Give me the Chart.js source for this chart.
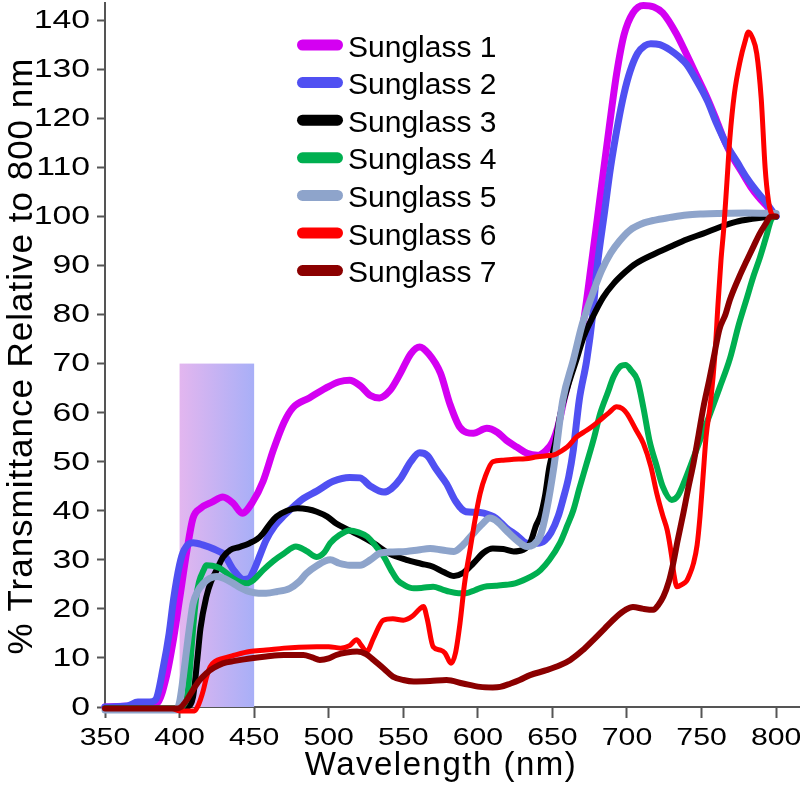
<!DOCTYPE html>
<html><head><meta charset="utf-8">
<script src="https://cdn.jsdelivr.net/npm/chart.js@4.4.1/dist/chart.umd.min.js"></script>
<style>html,body{margin:0;padding:0;background:#fff;}#wrap{width:800px;height:798px;}</style>
</head><body><div id="wrap"><canvas id="c" width="800" height="798"></canvas></div>
<script>
const xTicks = [350,400,450,500,550,600,650,700,750,800];
const yTicks = [0,10,20,30,40,50,60,70,80,90,100,110,120,130,140];
const seriesNames = ['Sunglass 1','Sunglass 2','Sunglass 3','Sunglass 4','Sunglass 5','Sunglass 6','Sunglass 7'];
const xTitle = 'Wavelength (nm)';
const yTitle = '% Transmittance Relative to 800 nm';
const highlightRange = [400, 450];
const highlightTop = 70;

const wl1 = [350,375,385,391,396,400,405,409,414,422,429,436,442,449,456,463,470,476,487,498,507,514,521,528,534,541,548,555,561,567,575,581,588,597,606,613,619,626,633,640,646,650,654,658,663,670,676,682,688,693,698,704,711,718,724,733,740,747,754,760,766,771,777,783,788,794,800];
const sunglass1 = [0,0.3,0.8,6,14,22,32,38.5,40.5,41.8,42.8,41.5,39.5,41.8,46,52.5,58,61,63,65,66.3,66.6,65.5,63.5,63,64.5,68,72,73.4,72,68,62,57,55.8,56.8,56,54.4,53,51.7,51.3,52.4,54,57.5,63,69,77,90,104,118,129,137,141.5,143,142.7,141.5,137.3,133,128.5,124,119.6,115,112,109,106,104,102,100];

const wl2 = [350,365,372,380,384,389,393,396,400,403,409,416,423,430,436,443,447,450,454,458,464,470,477,483,492,503,514,521,528,537,542,548,555,561,566,572,579,585,592,598,604,612,619,626,633,640,645,649,654,657,661,664,668,673,677,680,685,689,694,698,702,707,712,716,722,729,735,740,747,754,760,767,774,780,786,792,800];
const sunglass2 = [0,0.2,1,1,1.5,8,15,22,29,32,33.5,33,32.2,31,28,26,26.3,28,31,34,37,39,41,42.5,44,46,46.8,46.7,45,43.8,44.5,46.5,50,51.8,51.3,48.5,45.5,42,39.8,39.7,39.5,38.5,36.5,35,33.4,33.4,34,35.5,39,42.2,47,52.4,62.6,70.7,80,89.7,101,110,119,125,129.5,133.2,134.8,135.2,135,133.9,132.5,131,127.5,123.5,119,114.5,111,108,105.5,103.3,100];

const wl3 = [350,400,405,409,412,414,418,421,425,429,434,440,447,452,456,461,465,472,479,486,492,499,505,514,522,530,541,552,562,570,577,584,590,597,604,610,617,624,630,635,639,642,645,648,652,655,660,666,671,677,684,691,699,706,718,729,740,751,762,773,784,794,800];
const sunglass3 = [-0.3,-0.3,0,2,10,16,22.5,25.5,28,30.5,32,32.6,33.4,34.2,35.4,37.5,38.8,40,40.5,40.3,39.8,38.8,37.4,36,34.8,33.4,31.2,30,29.2,28.6,27.5,26.7,27.3,29.3,31.5,32.3,32.2,31.7,32,33.4,37,39,43,49,54,59.2,65,70.7,75.5,79.5,83.5,86.3,88.7,90.4,92.3,93.8,95.3,96.5,97.8,98.9,99.5,99.9,100];

const wl4 = [350,400,403,405,407,409,411,413,416,418,422,427,432,436,441,445,450,456,463,470,478,485,492,497,501,507,514,520,526,531,537,542,546,551,557,563,570,576,581,587,592,598,604,612,619,625,633,638,642,648,655,660,664,668,673,678,682,687,691,695,699,703,707,711,715,720,724,730,734,738,743,749,756,762,769,775,780,785,789,793,797,800];
const sunglass4 = [-0.3,-0.3,0.5,2,8,15.7,22,25.5,27.8,28.9,28.8,28.3,27.2,26.2,25.4,25.2,26,27.9,29.8,31.3,32.7,31.8,30.6,31.5,33.4,35,36,35.6,34.7,33,30.6,27.8,25.9,24.8,24.2,24.3,24.5,24,23.5,23.2,23.2,23.8,24.5,24.7,24.9,25.2,26.2,27,27.9,30,33.4,37,40.1,44.5,49.7,55,59.8,64,67.3,69.3,69.7,68.5,66.6,61,54.4,49,44.9,42.2,43,45.6,49.5,54.4,60,65,71,78,83,88,91.5,95.5,99.5,100];

const wl5 = [350,398,400,402,405,407,409,412,416,420,425,430,436,441,447,453,458,465,474,480,485,492,501,507,514,521,528,534,543,552,560,568,576,584,590,597,603,608,613,619,626,633,637,642,646,651,657,664,670,677,683,689,695,702,710,718,729,740,751,762,780,800];
const sunglass5 = [-0.6,-0.6,1,5,12.3,17,21,23.5,25.2,26.2,26.6,26.2,25.2,24.3,23.5,23.2,23.2,23.5,24.2,25.5,27.2,28.8,30,29.3,28.9,28.9,30,31.3,31.6,31.7,32,32.3,32,31.7,33,35.4,37.3,38.5,37.8,36,34,32.7,33,35,40,49,62.6,70.7,78,84.3,89,92.5,95,97.2,98.5,99.2,99.8,100.3,100.5,100.6,100.7,100.6];

const wl6 = [350,395,400,410,412,414,416,418,420.5,424,429,436,447,458,470,480,492,500,508,514,518.7,522,525.5,530,536.6,543,550,556,561,563.5,566,570,575,578,582,585,588,591,595,598,601.5,605,610,617,624,632,640,646,651,655,660,666,673,678,682,688,693,697,700,706,711,716,720,724,727,730,731.5,733.5,737,740,742,744.6,747,749,751,753,756,759,761,763,765,767,769,772,776,779,781.4,784,787,790,792.6,794.8,797,800];
const sunglass6 = [-0.3,-0.3,-0.8,-0.8,0,1.5,3.5,6,8.2,9.3,9.9,10.5,11.3,11.6,12,12.2,12.3,12.3,12,12.5,13.7,12.5,11.3,14,17.7,18,17.7,18.5,20,20.5,18,12.3,11.6,11,8.9,11,17,25,32.5,38,43.5,47,50,50.3,50.5,50.6,51,51.2,51.4,52,53,55,56.4,57.5,58.5,60,61.2,60.8,59.8,56.5,53.7,49,43.5,39,36,30.6,27,24.5,25,25.7,27,29.3,33,39,47,55,62,72,82,91,98,107,116,125,131.9,135.5,137.6,136.5,133.2,124,110,103.3,100.5,100];

const wl7 = [350,398,401,405,409,413,418,423,429,437,447,458,470,483,489,494,500,505,512,519,525,530,537,543,550,557,568,579,590,601.5,610,615,622,628,635,646,655,662,670,677.5,685,693,699,704,711,717.7,721,724.4,728,731,734,737.8,741,744.6,748,751.3,755,758,762,766,769,775,780.3,785,789,793,796,800];
const sunglass7 = [-0.3,-0.3,0,1.5,3.5,5.3,6.9,8,8.9,9.4,9.9,10.3,10.6,10.6,10.1,9.6,9.9,10.6,11.1,11.3,10.8,9.6,7.8,6.2,5.5,5.2,5.3,5.5,4.8,4.1,4,4.1,4.8,5.5,6.5,7.5,8.5,9.6,11.5,13.7,16,18.4,19.8,20.4,20,19.8,20.8,22.5,25.5,29.3,34,39.5,44.5,49.7,55.5,61.2,66.5,71,77,80,83,87.5,91,94,96.5,98.5,99.9,100];

const seriesColors = ['#D400F2','#5050F2','#000000','#00AF50','#8EA4CB','#FF0000','#8B0000'];
const lineWidths = [7,7,6,6,7,5,6];
const allWl = [wl1,wl2,wl3,wl4,wl5,wl6,wl7];
const allVals = [sunglass1,sunglass2,sunglass3,sunglass4,sunglass5,sunglass6,sunglass7];

const datasets = seriesNames.map((name,i)=>({
  label: name,
  data: allWl[i].map((x,j)=>({x:x, y:allVals[i][j]})),
  borderColor: seriesColors[i],
  backgroundColor: seriesColors[i],
  borderWidth: lineWidths[i],
  pointRadius: 0,
  pointHoverRadius: 0,
  fill: false,
  cubicInterpolationMode: 'monotone',
  borderJoinStyle: 'round',
  borderCapStyle: 'round',
  clip: false,
  order: seriesNames.length - 1 - i
}));

const FONT = '"Liberation Sans", Arial, Helvetica, sans-serif';

const decor = {
  id: 'decor',
  beforeDatasetsDraw(chart){
    const ctx = chart.ctx;
    const xs = chart.scales.x, ys = chart.scales.y;
    const x1 = xs.getPixelForValue(highlightRange[0]);
    const x2 = xs.getPixelForValue(highlightRange[1]);
    const y1 = ys.getPixelForValue(highlightTop);
    const y2 = ys.getPixelForValue(0);
    const g = ctx.createLinearGradient(x1,0,x2,0);
    g.addColorStop(0,'#E3B6EF');
    g.addColorStop(1,'#A8AFF7');
    ctx.save();
    ctx.fillStyle = g;
    ctx.fillRect(x1,y1,x2-x1,y2-y1);
    ctx.restore();
  },
  afterDraw(chart){
    const ctx = chart.ctx;
    const xs = chart.scales.x, ys = chart.scales.y;
    ctx.save();
    ctx.fillStyle = '#000';
    // tick labels (horizontally widened digits as in the reference)
    ctx.font = '24px ' + FONT;
    ctx.textAlign = 'center';
    ctx.textBaseline = 'alphabetic';
    xTicks.forEach(v => {
      ctx.save();
      ctx.translate(xs.getPixelForValue(v), 745);
      ctx.scale(1.26, 1);
      ctx.fillText(String(v), 0, 0);
      ctx.restore();
    });
    ctx.font = '25px ' + FONT;
    ctx.textAlign = 'right';
    ctx.textBaseline = 'middle';
    yTicks.forEach(v => {
      ctx.save();
      ctx.translate(90, ys.getPixelForValue(v) + 1);
      ctx.scale(1.35, 1);
      ctx.fillText(String(v), 0, 0);
      ctx.restore();
    });
    // legend
    seriesNames.forEach((n,i)=>{
      const cy = 45 + i*37.6;
      ctx.strokeStyle = seriesColors[i];
      ctx.lineWidth = 11;
      ctx.lineCap = 'round';
      ctx.beginPath(); ctx.moveTo(302.5,cy); ctx.lineTo(337.5,cy); ctx.stroke();
      ctx.font = '30px ' + FONT;
      ctx.textAlign = 'left';
      ctx.textBaseline = 'alphabetic';
      ctx.fillText(n, 348, cy + 11.5);
    });
    // x title
    ctx.letterSpacing = '1.5px';
    ctx.font = '33px ' + FONT;
    ctx.textAlign = 'center';
    ctx.fillText(xTitle, 441, 775);
    // y title
    ctx.letterSpacing = '1px';
    ctx.font = '35px ' + FONT;
    ctx.translate(32, 356);
    ctx.rotate(-Math.PI/2);
    ctx.fillText(yTitle, 0, 0);
    ctx.restore();
  }
};

new Chart(document.getElementById('c'), {
  type: 'line',
  data: { datasets },
  plugins: [decor],
  options: {
    responsive: false,
    devicePixelRatio: 1,
    animation: false,
    events: [],
    layout: { padding: { top: 3, right: 0, left: 0, bottom: 0 } },
    plugins: { legend: { display: false }, tooltip: { enabled: false } },
    scales: {
      x: {
        type: 'linear', min: 350, max: 816,
        afterBuildTicks: s => { s.ticks = xTicks.map(v => ({ value: v })); },
        afterFit: s => { s.height = 91; },
        grid: { display: true, drawOnChartArea: false, drawTicks: true, tickLength: 11, tickWidth: 2, tickColor: '#555' },
        border: { display: true, color: '#555', width: 2 },
        ticks: { display: false }
      },
      y: {
        type: 'linear', min: 0, max: 143.5,
        afterBuildTicks: s => { s.ticks = yTicks.map(v => ({ value: v })); },
        afterFit: s => { s.width = 105; },
        grid: { display: true, drawOnChartArea: false, drawTicks: true, tickLength: 8, tickWidth: 2, tickColor: '#555' },
        border: { display: true, color: '#555', width: 2 },
        ticks: { display: false }
      }
    }
  }
});
</script>
</body></html>
